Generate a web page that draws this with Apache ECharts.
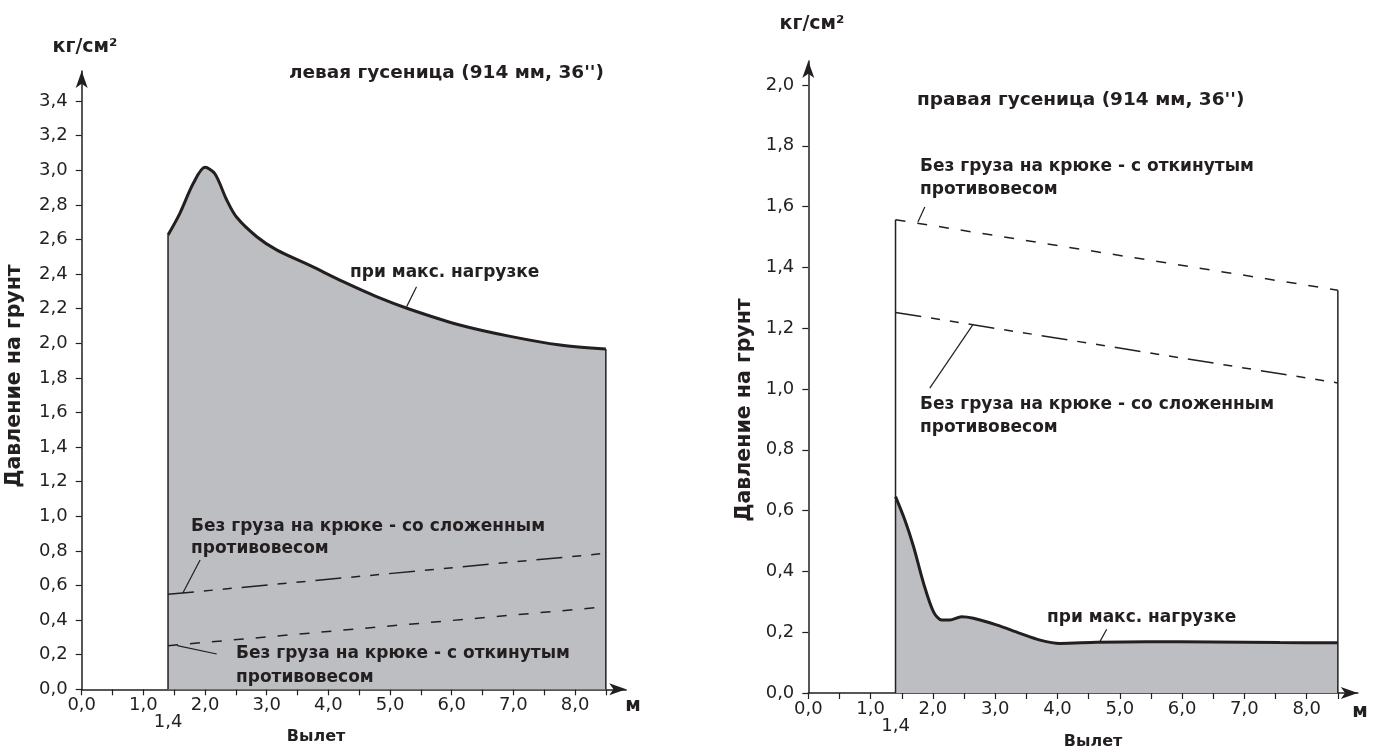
<!DOCTYPE html>
<html><head><meta charset="utf-8">
<script src="https://cdn.jsdelivr.net/npm/echarts@6/dist/echarts.min.js"></script>
<style>html,body{margin:0;padding:0;background:#fff}#c{width:1383px;height:754px}</style>
</head><body><div id="c"></div>
<script>
// ---- data ----
const xStart = 1.4, xEnd = 8.5;
const xTickValues = [0,0.5,1,1.5,2,2.5,3,3.5,4,4.5,5,5.5,6,6.5,7,7.5,8,8.5];
const xLabelValues = [0,1,2,3,4,5,6,7,8];
const xExtraLabel = [1.4];
const yTicksLeft = [0,0.2,0.4,0.6,0.8,1.0,1.2,1.4,1.6,1.8,2.0,2.2,2.4,2.6,2.8,3.0,3.2,3.4];
const yTicksRight = [0,0.2,0.4,0.6,0.8,1.0,1.2,1.4,1.6,1.8,2.0];

const leftLoadX = [1.4,1.59,1.81,2.0,2.16,2.35,2.51,2.84,3.16,3.70,4.24,4.78,5.32,6.13,6.95,7.76,8.5];
const leftLoadY = [2.626,2.75,2.925,3.017,2.98,2.83,2.73,2.616,2.54,2.45,2.356,2.27,2.197,2.106,2.04,1.99,1.967];
const leftFolded = [0.549,0.786];   // at xStart, xEnd
const leftTilted = [0.252,0.477];

const rightLoadX = [1.4,1.55,1.69,1.85,2.01,2.14,2.27,2.46,2.65,3.02,3.40,3.72,4.04,4.63,5.43,6.50,7.57,8.5];
const rightLoadY = [0.646,0.569,0.481,0.361,0.267,0.240,0.240,0.251,0.246,0.224,0.196,0.174,0.163,0.167,0.169,0.168,0.166,0.165];
const rightTilted = [1.557,1.325];
const rightFolded = [1.252,1.02];

// leader line anchors (data coordinates)
const leftLeaders = [[[1.64,0.557],[1.92,0.747]], [[1.55,0.252],[2.19,0.204]], [[5.43,2.327],[5.27,2.212]]];
const rightLeaders = [[[1.76,1.549],[1.87,1.599]], [[2.64,1.211],[1.95,1.003]], [[4.79,0.2095],[4.68,0.169]]];

// ---- helpers ----
const INK = '#231f20';
const FILL = '#bdbec1';
const NUMFONT = 'DejaVu Sans';
const fmt = v => v.toFixed(1).replace('.', ',');
const zip = (xs, ys) => xs.map((x, i) => [x, ys[i]]);

function xAxisMain(gi, max) {
  return {
    type: 'value', gridIndex: gi, min: 0, max: max, position: 'bottom',
    axisLine: {show: true, onZero: false, symbol: ['none','arrow'], symbolSize: [9,17], lineStyle: {color: INK, width: 1.5}},
    axisTick: {show: true, length: 6, customValues: xTickValues, lineStyle: {color: INK, width: 1.2}},
    axisLabel: {customValues: xLabelValues, formatter: fmt, fontSize: 18, color: INK, margin: 7, fontFamily: NUMFONT},
    splitLine: {show: false}
  };
}
function xAxisExtra(gi, max) {
  return {
    type: 'value', gridIndex: gi, min: 0, max: max, position: 'bottom',
    axisLine: {show: false}, axisTick: {show: false}, splitLine: {show: false},
    axisLabel: {customValues: xExtraLabel, formatter: fmt, fontSize: 18, color: INK, margin: 24, fontFamily: NUMFONT}
  };
}
function yAxisMain(gi, max, ticks) {
  return {
    type: 'value', gridIndex: gi, min: 0, max: max,
    axisLine: {show: true, onZero: false, symbol: ['none','arrow'], symbolSize: [9,17], lineStyle: {color: INK, width: 1.5}},
    axisTick: {show: true, length: 6, customValues: ticks, lineStyle: {color: INK, width: 1.2}},
    axisLabel: {customValues: ticks, formatter: fmt, fontSize: 18, color: INK, margin: 14, fontFamily: NUMFONT},
    splitLine: {show: false}
  };
}
function seg(gi, pts, style) {
  return {type: 'line', xAxisIndex: gi, yAxisIndex: gi, data: pts, symbol: 'none', silent: true,
          lineStyle: Object.assign({color: INK, width: 1.2}, style), animation: false};
}
const dashFolded = [26,10,9,10,9,10];
const dashTilted = [10,12];

const series = [
  // left
  {type: 'line', xAxisIndex: 0, yAxisIndex: 0, data: zip(leftLoadX, leftLoadY), smooth: 0.3,
   symbol: 'none', lineStyle: {color: INK, width: 3}, areaStyle: {color: FILL, opacity: 1}, animation: false},
  seg(0, [[xStart,0],[xStart,leftLoadY[0]]], {width: 1.5}),
  seg(0, [[xEnd,0],[xEnd,leftLoadY[leftLoadY.length-1]]], {width: 1.5}),
  seg(0, zip([xStart,xEnd], leftFolded), {type: dashFolded, width: 1.5}),
  seg(0, zip([xStart,xEnd], leftTilted), {type: dashTilted, width: 1.5}),
  ...leftLeaders.map(p => seg(0, p, {width: 1.2})),
  // right
  {type: 'line', xAxisIndex: 1, yAxisIndex: 1, data: zip(rightLoadX, rightLoadY), smooth: 0.3,
   symbol: 'none', lineStyle: {color: INK, width: 3}, areaStyle: {color: FILL, opacity: 1}, animation: false},
  seg(1, [[xStart,0],[xStart,rightTilted[0]]], {width: 1.5}),
  seg(1, [[xEnd,0],[xEnd,rightTilted[1]]], {width: 1.5}),
  seg(1, zip([xStart,xEnd], rightFolded), {type: dashFolded, width: 1.5}),
  seg(1, zip([xStart,xEnd], rightTilted), {type: dashTilted, width: 1.5}),
  ...rightLeaders.map(p => seg(1, p, {width: 1.2}))
];

const F = (px) => 'bold ' + px + 'px "DejaVu Sans", sans-serif';
const B = F(17);
function txt(text, x, y, opts) {
  const o = {type: 'text', x: x, y: y, z: 100, silent: true,
    style: Object.assign({text: text, font: B, fill: INK, verticalAlign: 'middle', align: 'left'}, (opts||{}).style || {})};
  if (opts && opts.rotation !== undefined) o.rotation = opts.rotation;
  return o;
}
const graphics = [
  txt('левая гусеница (914 мм, 36\'\')', 289, 73, {style: {font: F(18.5)}}),
  txt('при макс. нагрузке', 350, 273),
  txt('Без груза на крюке - со сложенным', 191, 527),
  txt('противовесом', 191, 549),
  txt('Без груза на крюке - с откинутым', 236, 654),
  txt('противовесом', 236, 678),
  txt('кг/см²', 85, 47, {style: {align: 'center', font: F(19)}}),
  txt('м', 633, 706, {style: {align: 'center', font: F(19)}}),
  txt('Вылет', 316, 737, {style: {align: 'center', font: F(16)}}),
  txt('Давление на грунт', 15, 376, {rotation: Math.PI/2, style: {align: 'center', font: F(20.5)}}),

  txt('правая гусеница (914 мм, 36\'\')', 917, 100, {style: {font: F(18.5)}}),
  txt('Без груза на крюке - с откинутым', 920, 167),
  txt('противовесом', 920, 190),
  txt('Без груза на крюке - со сложенным', 920, 405),
  txt('противовесом', 920, 428),
  txt('при макс. нагрузке', 1047, 618),
  txt('кг/см²', 812, 24, {style: {align: 'center', font: F(19)}}),
  txt('м', 1360, 712, {style: {align: 'center', font: F(19)}}),
  txt('Вылет', 1093, 742, {style: {align: 'center', font: F(16)}}),
  txt('Давление на грунт', 745, 410, {rotation: Math.PI/2, style: {align: 'center', font: F(20.5)}})
];

const chart = echarts.init(document.getElementById('c'), null, {renderer: 'canvas'});
chart.setOption({
  backgroundColor: '#fff',
  animation: false,
  grid: [
    {left: 81.7, top: 71, width: 544.5, height: 618.3},
    {left: 808.3, top: 61, width: 549.5, height: 632}
  ],
  xAxis: [xAxisMain(0, 8.83), xAxisMain(1, 8.82), xAxisExtra(0, 8.83), xAxisExtra(1, 8.82)],
  yAxis: [yAxisMain(0, 3.574, yTicksLeft), yAxisMain(1, 2.079, yTicksRight)],
  series: series,
  graphic: graphics
});
</script>
</body></html>
